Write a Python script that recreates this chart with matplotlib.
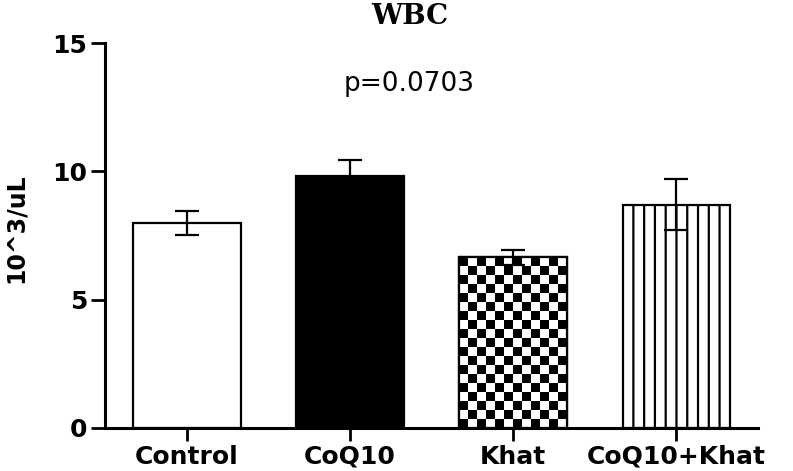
import numpy as np
import matplotlib
matplotlib.use('Agg')
import matplotlib.pyplot as plt

# data
groups = ['Control', 'CoQ10', 'Khat', 'CoQ10+Khat']
means = [8.0, 9.8, 6.65, 8.7]
sems = [0.47, 0.65, 0.3, 1.0]
fills = ['white', 'black', 'checker', 'lines']
p_text = 'p=0.0703'

plt.rcParams['font.family'] = 'DejaVu Sans'

fig = plt.figure(figsize=(7.93, 4.71), dpi=100)
ax = fig.add_axes([0.1324, 0.0913, 0.8236, 0.8174])

x = np.arange(len(groups))
width = 0.66
bars = ax.bar(x, means, width=width, color='white', edgecolor='black',
              linewidth=1.6, zorder=2)

for bar, fill in zip(bars, fills):
    x0 = bar.get_x()
    x1 = x0 + bar.get_width()
    h = bar.get_height()
    if fill == 'black':
        bar.set_facecolor('black')
    elif fill == 'checker':
        cols = 12
        rows = int(round(cols * h / 4.1))
        board = np.indices((rows, cols)).sum(axis=0) % 2
        im = ax.imshow(board, cmap='gray', interpolation='nearest',
                       extent=(x0, x1, 0, h), aspect='auto', zorder=2.5)
        im.set_clip_path(bar)
        ax.bar(bar.get_x() + bar.get_width() / 2, h, width=bar.get_width(),
               color='none', edgecolor='black', linewidth=1.6, zorder=2.6)
    elif fill == 'lines':
        xs = np.linspace(x0, x1, 11)[1:-1]
        ax.vlines(xs, 0, h, color='black', linewidth=1.6, zorder=2.5,
                  snap=False)

ax.errorbar(x, means, yerr=sems, fmt='none', ecolor='black', elinewidth=1.6,
            capsize=8.3, capthick=1.6, zorder=3)

ax.set_xlim(-0.5, 3.5)
ax.set_ylim(0, 15)
ax.set_yticks([0, 5, 10, 15])
ax.set_xticks(x)
ax.set_xticklabels(groups)
for lab in ax.get_xticklabels() + ax.get_yticklabels():
    lab.set_fontweight('bold')
    lab.set_fontsize(18)
ax.tick_params(axis='y', width=2, length=10, pad=3)
ax.tick_params(axis='x', width=2, length=9, pad=3)

ax.spines['top'].set_visible(False)
ax.spines['right'].set_visible(False)
ax.spines['left'].set_linewidth(2.2)
ax.spines['bottom'].set_linewidth(2.2)

ax.set_ylabel('10^3/uL', fontsize=17, fontweight='bold')
ax.yaxis.set_label_coords(-0.118, 0.52)

fig.text(0.517, 0.948, 'WBC', ha='center', va='baseline', fontsize=20,
         fontweight='bold', family='DejaVu Serif')
fig.text(0.516, 0.807, p_text, ha='center', va='baseline', fontsize=19)

fig.savefig('out.png', dpi=100)
